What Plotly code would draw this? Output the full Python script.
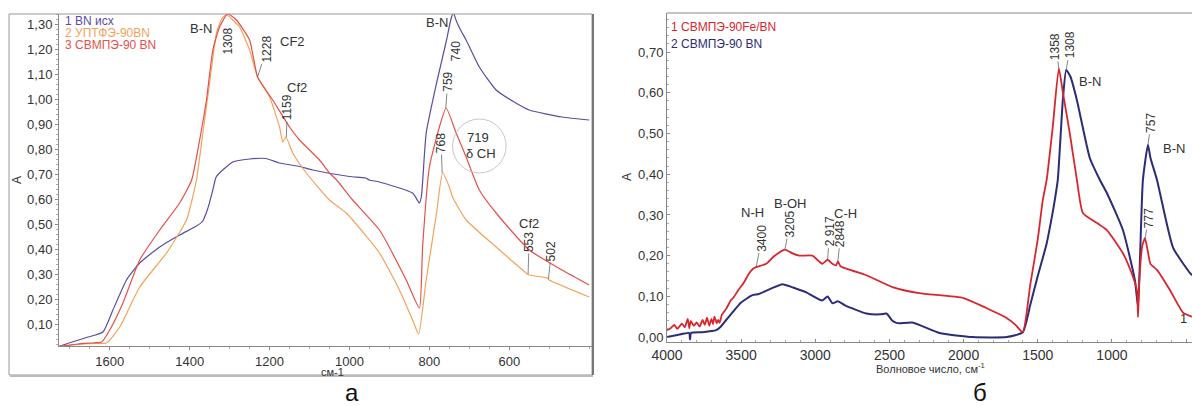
import plotly.graph_objects as go

W, H = 1192, 406

# ---- panel a : IR spectra, wavenumber (cm-1) vs absorbance ----
bn_x = [1727, 1700, 1660, 1617, 1592, 1558, 1525, 1475, 1425, 1385, 1368, 1355, 1342, 1333, 1292,
        1250, 1210, 1175, 1125, 1092, 1000, 960, 950, 925, 842, 825, 820, 808, 782, 757, 746, 740, 732,
        720, 708, 675, 633, 590, 550, 468, 400]
bn_y = [0.01, 0.025, 0.045, 0.068, 0.156, 0.276, 0.344, 0.408, 0.456, 0.49, 0.51, 0.56, 0.636, 0.69, 0.748,
        0.76, 0.762, 0.744, 0.73, 0.716, 0.69, 0.684, 0.676, 0.668, 0.624, 0.584, 0.61, 0.864, 1.064, 1.236, 1.32, 1.345, 1.31,
        1.27, 1.236, 1.128, 1.036, 0.99, 0.956, 0.928, 0.916]

uptfe_x = [1727, 1680, 1640, 1608, 1575, 1525, 1458, 1408, 1383, 1367, 1350, 1333, 1320, 1308, 1295, 1275, 1250,
           1230, 1200, 1175, 1167, 1159, 1142, 1108, 1050, 1008, 925, 875, 842, 827, 808, 782, 767, 750,
           742, 708, 633, 558, 553, 545, 505, 500, 400]
uptfe_y = [0.01, 0.018, 0.022, 0.024, 0.088, 0.248, 0.384, 0.516, 0.676, 0.864, 1.064, 1.264, 1.32, 1.338, 1.32, 1.288, 1.196,
           1.088, 1.008, 0.888, 0.828, 0.848, 0.784, 0.704, 0.596, 0.544, 0.384, 0.236, 0.116, 0.06, 0.276, 0.544, 0.704, 0.648,
           0.608, 0.516, 0.408, 0.304, 0.298, 0.294, 0.284, 0.276, 0.208]

svm_x = [1727, 1680, 1640, 1620, 1600, 1567, 1525, 1475, 1425, 1395, 1375, 1358, 1342, 1325, 1305, 1283,
         1250, 1230, 1192, 1150, 1125, 1075, 1050, 1032, 992, 925, 858, 825, 817, 800, 775, 758, 733,
         708, 675, 633, 550, 468, 400]
svm_y = [0.01, 0.02, 0.025, 0.028, 0.076, 0.184, 0.356, 0.476, 0.584, 0.676, 0.836, 0.996, 1.196, 1.288, 1.34, 1.316,
         1.236, 1.088, 0.996, 0.888, 0.836, 0.756, 0.704, 0.676, 0.596, 0.476, 0.276, 0.164, 0.408, 0.728, 0.888, 0.964, 0.864,
         0.768, 0.636, 0.544, 0.396, 0.316, 0.256]

a_yticks = [0.1, 0.2, 0.3, 0.4, 0.5, 0.6, 0.7, 0.8, 0.9, 1.0, 1.1, 1.2, 1.3]
a_ytext = ["0,10", "0,20", "0,30", "0,40", "0,50", "0,60", "0,70", "0,80", "0,90", "1,00", "1,10", "1,20", "1,30"]
a_xticks = [1600, 1400, 1200, 1000, 800, 600]

# ---- panel b ----
fe_x = [4000, 3975, 3950, 3930, 3900, 3880, 3860, 3850, 3840, 3820, 3800, 3780, 3760, 3745, 3730, 3715,
        3700, 3690, 3680, 3665, 3655, 3645, 3630, 3600, 3570, 3550, 3520, 3480, 3446, 3420, 3400, 3331,
        3280, 3205, 3150, 3108, 3020, 2953, 2917, 2885, 2860, 2848, 2830, 2656, 2480, 2300, 2000, 1850,
        1710, 1650, 1601, 1550, 1500, 1466, 1440, 1399, 1358, 1330, 1284, 1236, 1196, 1100, 1034, 926,
        870, 831, 824, 815, 795, 777, 760, 740, 696, 608, 520, 460]
fe_y = [0.017, 0.022, 0.03, 0.02, 0.033, 0.024, 0.045, 0.022, 0.04, 0.028, 0.036, 0.026, 0.042, 0.03, 0.048, 0.028,
        0.045, 0.032, 0.05, 0.034, 0.042, 0.035, 0.055, 0.07, 0.09, 0.098, 0.115, 0.135, 0.157, 0.168, 0.172, 0.18,
        0.198, 0.215, 0.205, 0.2, 0.2, 0.18, 0.19, 0.18, 0.176, 0.186, 0.174, 0.152, 0.123, 0.108, 0.096, 0.072,
        0.047, 0.03, 0.012, 0.13, 0.24, 0.337, 0.386, 0.516, 0.66, 0.6, 0.5, 0.386, 0.305, 0.28, 0.263, 0.206,
        0.16, 0.115, 0.049, 0.14, 0.225, 0.243, 0.215, 0.18, 0.165, 0.115, 0.06, 0.05]

bn90_x = [4000, 3930, 3851, 3845, 3838, 3760, 3669, 3640, 3601, 3500, 3424, 3380, 3223, 3150, 3061, 2953,
          2917, 2885, 2848, 2800, 2656, 2560, 2520, 2480, 2453, 2432, 2345, 2162, 1939, 1710, 1601, 1550,
          1500, 1440, 1400, 1385, 1365, 1331, 1308, 1280, 1236, 1149, 1081, 1034, 926, 845, 824, 810,
          791, 757, 740, 696, 588, 473, 460]
bn90_y = [0.0, 0.005, 0.01, -0.006, 0.01, 0.012, 0.017, 0.025, 0.042, 0.085, 0.103, 0.106, 0.13, 0.122, 0.11, 0.09,
          0.1, 0.083, 0.088, 0.078, 0.058, 0.056, 0.058, 0.04, 0.035, 0.034, 0.036, 0.01, 0.0, 0.0, 0.012, 0.08,
          0.15, 0.23, 0.305, 0.337, 0.386, 0.582, 0.656, 0.64, 0.582, 0.44, 0.386, 0.354, 0.263, 0.14, 0.074, 0.2,
          0.386, 0.472, 0.44, 0.386, 0.22, 0.157, 0.152]

b_yticks = [0.0, 0.1, 0.2, 0.3, 0.4, 0.5, 0.6, 0.7]
b_ytext = ["0,00", "0,10", "0,20", "0,30", "0,40", "0,50", "0,60", "0,70"]
b_xticks = [4000, 3500, 3000, 2500, 2000, 1500, 1000, 500]

C_BN = "#5b4c9f"
C_UPT = "#f2a35a"
C_SVM = "#e4514b"
C_FE = "#d8262f"
C_NAVY = "#2c2c78"
FONT = "Arial, Liberation Sans, sans-serif"
TXT = "#333333"


def px(x, y):
    return x / W, 1 - y / H


def curve(xs, ys, color, width, xa, ya):
    return go.Scatter(x=xs, y=ys, mode="lines", line=dict(color=color, width=width, shape="spline", smoothing=0.5),
                      xaxis=xa, yaxis=ya, hoverinfo="skip")


fig = go.Figure()
fig.add_trace(curve(bn_x, bn_y, C_BN, 1.2, "x", "y"))
fig.add_trace(curve(uptfe_x, uptfe_y, C_UPT, 1.2, "x", "y"))
fig.add_trace(curve(svm_x, svm_y, C_SVM, 1.2, "x", "y"))
fig.add_trace(curve(bn90_x, bn90_y, C_NAVY, 2, "x2", "y2"))
fig.add_trace(curve(fe_x, fe_y, C_FE, 1.8, "x2", "y2"))

axis_common = dict(showgrid=False, zeroline=False, showline=True, linecolor="#888888", linewidth=1,
                   automargin=False, tickfont=dict(family=FONT, size=13, color=TXT), tickcolor="#888888")

fig.update_layout(
    width=W, height=H, margin=dict(l=0, r=0, t=0, b=0, autoexpand=False),
    paper_bgcolor="white", plot_bgcolor="white", showlegend=False,
    xaxis=dict(domain=[59 / W, 592 / W], range=[1727, 393], tickvals=a_xticks, ticks="outside", ticklen=3,
               minor=dict(ticks="outside", ticklen=2, dtick=50, tickcolor="#aaaaaa"), anchor="y", **axis_common),
    yaxis=dict(domain=[1 - 346 / H, 1 - 14 / H], range=[0.012, 1.34], tickvals=a_yticks, ticktext=a_ytext,
               ticks="outside", ticklen=3, minor=dict(ticks="outside", ticklen=2, dtick=0.02, tickcolor="#aaaaaa"),
               anchor="x", **axis_common),
    xaxis2=dict(domain=[667 / W, 1.0], range=[4000, 460], tickvals=b_xticks, ticks="inside", ticklen=3,
                minor=dict(ticks="inside", ticklen=2, dtick=100, tickcolor="#aaaaaa"), anchor="y2", **axis_common),
    yaxis2=dict(domain=[1 - 342 / H, 1 - 13 / H], range=[-0.012, 0.796], tickvals=b_yticks, ticktext=b_ytext,
                ticks="inside", ticklen=3, minor=dict(ticks="inside", ticklen=2, dtick=0.02, tickcolor="#aaaaaa"),
                anchor="x2", **axis_common),
)
fig.update_xaxes(tickfont_size=14, selector=dict(anchor="y2"))

# frames
x0, y0 = px(9, 375)
x1, y1 = px(592, 14)
fig.add_shape(type="rect", xref="paper", yref="paper", x0=x0, y0=y0, x1=x1, y1=y1,
              line=dict(color="#999999", width=1))
fig.add_shape(type="line", xref="paper", yref="paper", x0=593 / W, x1=593 / W, y0=y0, y1=y1,
              line=dict(color="#777777", width=2))
fig.add_shape(type="line", xref="paper", yref="paper", x0=10 / W, x1=593 / W, y0=1 - 376 / H, y1=1 - 376 / H,
              line=dict(color="#bbbbbb", width=2))
fig.add_shape(type="line", xref="paper", yref="paper", x0=667 / W, x1=1.0, y0=1 - 13 / H, y1=1 - 13 / H,
              line=dict(color="#888888", width=1))
# circle around 719 / δ CH
fig.add_shape(type="circle", xref="x", yref="y", x0=742, x1=608, y0=0.704, y1=0.92,
              line=dict(color="#c8c8c8", width=1))


def label(x, y, text, size=12, color=TXT, angle=0, xanchor="center"):
    xp, yp = px(x, y)
    fig.add_annotation(x=xp, y=yp, xref="paper", yref="paper", text=text, showarrow=False, textangle=angle,
                       xanchor=xanchor, yanchor="middle", font=dict(family=FONT, size=size, color=color))


def peak(xr, yr, xv, yv, text, ax=0, ay=-26, arrow=True):
    fig.add_annotation(x=xv, y=yv, xref=xr, yref=yr, text=text, textangle=-90, showarrow=arrow,
                       arrowhead=0, arrowwidth=0.8, arrowcolor="#666666", ax=ax, ay=ay,
                       yshift=0 if arrow else ay, xshift=0 if arrow else ax,
                       font=dict(family=FONT, size=12, color=TXT))


# panel a legend + labels
label(63, 21, "1 BN исх", color=C_BN, xanchor="left")
label(63, 33, "2 УПТФЭ-90BN", color=C_UPT, xanchor="left")
label(63, 45, "3 СВМПЭ-90 BN", color=C_SVM, xanchor="left")
label(201, 28, "B-N", size=13)
label(292, 42, "CF2", size=13)
label(297, 88, "Cf2", size=13)
label(437, 23, "B-N", size=13)
label(478, 138, "719", size=13)
label(481, 153, "δ CH", size=13)
label(529, 223, "Cf2", size=13)
label(17, 180, "A", size=12, angle=-90)
label(332, 372, "см-1", size=11)
label(352, 392, "а", size=24, color="#111111")

peak("x", "y", 1305, 1.336, "1308", ax=0, ay=-26, arrow=False)
peak("x", "y", 1230, 1.088, "1228", ax=9, ay=-28)
peak("x", "y", 1158, 0.848, "1159", ax=1, ay=-30)
peak("x", "y", 738, 1.336, "740", ax=2, ay=-36, arrow=False)
peak("x", "y", 759, 0.964, "759", ax=2, ay=-26)
peak("x", "y", 768, 0.704, "768", ax=-1, ay=-30)
peak("x", "y", 553, 0.30, "553", ax=1, ay=-32)
peak("x", "y", 502, 0.28, "502", ax=3, ay=-28)

# panel b legend + labels
label(669, 27, "1 СВМПЭ-90Fe/BN", color=C_FE, xanchor="left")
label(669, 44, "2 СВМПЭ-90 BN", color=C_NAVY, xanchor="left")
label(752, 212, "N-H", size=13)
label(790, 203, "B-OH", size=13)
label(845, 213, "C-H", size=13)
label(1090, 81, "B-N", size=13)
label(1174, 148, "B-N", size=13)
label(1183, 318, "1", size=13)
label(627, 177, "A", size=12, angle=-90)
label(930, 368, "Волновое число, см<sup>-1</sup>", size=11)
label(980, 392, "б", size=24, color="#111111")

peak("x2", "y2", 3400, 0.17, "3400", ax=6, ay=-30)
peak("x2", "y2", 3205, 0.215, "3205", ax=5, ay=-26)
peak("x2", "y2", 2917, 0.19, "2 917", ax=2, ay=-28)
peak("x2", "y2", 2848, 0.186, "2848", ax=3, ay=-28)
peak("x2", "y2", 1358, 0.66, "1358", ax=-3, ay=-22)
peak("x2", "y2", 1308, 0.656, "1308", ax=4, ay=-25)
peak("x2", "y2", 757, 0.472, "757", ax=3, ay=-22)
peak("x2", "y2", 777, 0.243, "777", ax=4, ay=-20)

# the page gets the browser's default 8px body margin; drop it so the figure sits at 0,0
fig.write_html("out.html", config={"displayModeBar": False},
               post_script="document.body.style.margin='0';")
